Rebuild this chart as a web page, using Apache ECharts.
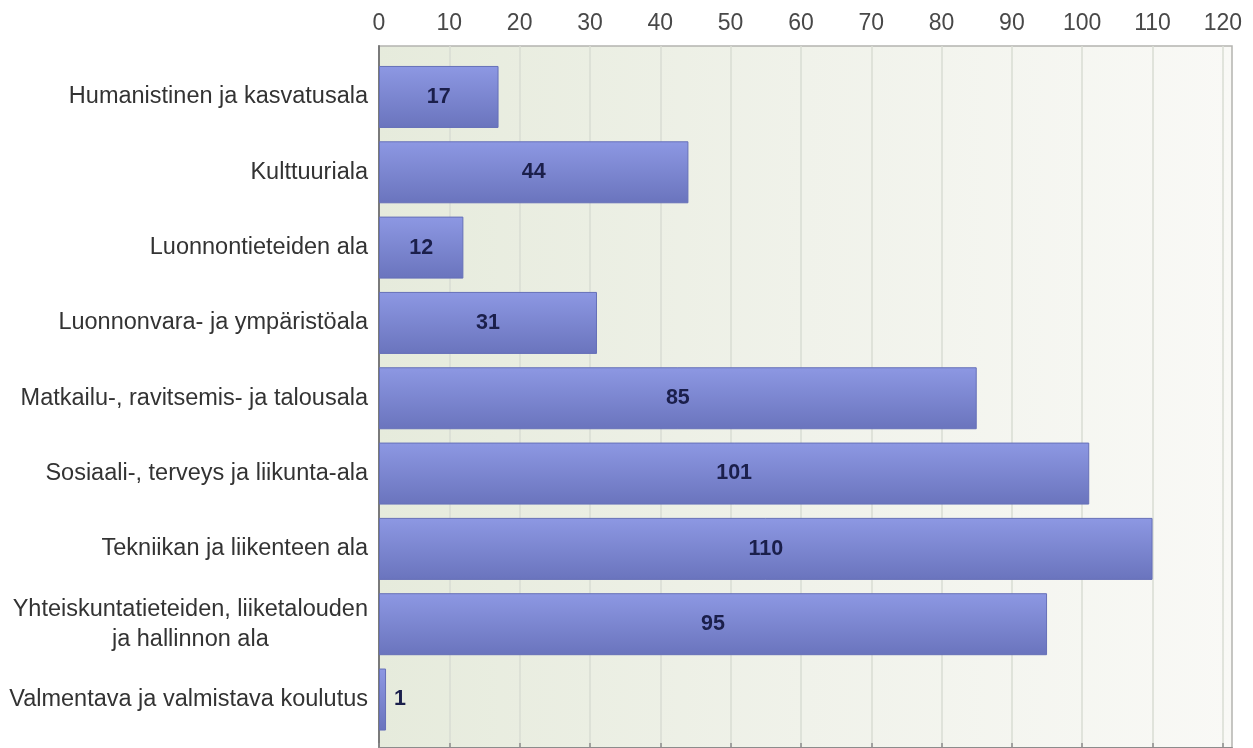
<!DOCTYPE html>
<html>
<head>
<meta charset="utf-8">
<script src="https://cdn.jsdelivr.net/npm/echarts@6/dist/echarts.min.js"></script>
<style>
html,body{margin:0;padding:0;background:#fff;}
#c{width:1253px;height:748px;}
</style>
</head>
<body>
<div id="c"></div>
<script>
var categories = [
  'Humanistinen ja kasvatusala',
  'Kulttuuriala',
  'Luonnontieteiden ala',
  'Luonnonvara- ja ympäristöala',
  'Matkailu-, ravitsemis- ja talousala',
  'Sosiaali-, terveys ja liikunta-ala',
  'Tekniikan ja liikenteen ala',
  'Yhteiskuntatieteiden, liiketalouden\nja hallinnon ala',
  'Valmentava ja valmistava koulutus'
];
var values = [17, 44, 12, 31, 85, 101, 110, 95, 1];
var xTicks = [0, 10, 20, 30, 40, 50, 60, 70, 80, 90, 100, 110, 120];
var xMax = 121.3;

var FONT = '"Liberation Sans", Arial, sans-serif';
var chart = echarts.init(document.getElementById('c'), null, {renderer: 'canvas'});

var barData = values.map(function (v) {
  if (v < 5) {
    return {value: v, label: {position: 'right', distance: 8}};
  }
  return v;
});

var option = {
  animation: false,
  backgroundColor: '#ffffff',
  grid: [
    {
      left: 379, right: 21, top: 46, bottom: -20,
      show: true,
      borderColor: '#b4b4b0', borderWidth: 1.5,
      backgroundColor: new echarts.graphic.LinearGradient(0, 0, 1, 0, [
        {offset: 0, color: '#e6ebdc'},
        {offset: 0.5, color: '#f0f2ea'},
        {offset: 1, color: '#f9f9f6'}
      ])
    },
    {left: 379, right: 21, top: 59.3, bottom: 10.8}
  ],
  xAxis: [
    {
      gridIndex: 0, type: 'value', position: 'top',
      min: 0, max: xMax, interval: 10,
      axisLine: {show: true, lineStyle: {color: '#8c8c8c', width: 2}},
      axisTick: {show: true, length: 5, customValues: xTicks, lineStyle: {color: '#8c8c8c', width: 1.5}},
      axisLabel: {customValues: xTicks, margin: 11, color: '#484848', fontSize: 23, fontFamily: FONT},
      splitLine: {show: true, lineStyle: {color: '#d9dcd3', width: 1.5}}
    },
    {
      gridIndex: 1, type: 'value', min: 0, max: xMax, show: false,
      axisLine: {show: false}, axisTick: {show: false},
      axisLabel: {show: false}, splitLine: {show: false}
    }
  ],
  yAxis: [
    {
      gridIndex: 0, type: 'value', min: 0, max: 1,
      axisLine: {show: true, lineStyle: {color: '#7a7a7a', width: 2}},
      axisTick: {show: false}, axisLabel: {show: false}, splitLine: {show: false}
    },
    {
      gridIndex: 1, type: 'category', inverse: true, data: categories,
      axisLine: {show: false}, axisTick: {show: false}, splitLine: {show: false},
      axisLabel: {
        margin: 11, align: 'right',
        color: '#333333', fontSize: 23.5, fontFamily: FONT,
        formatter: function (v) {
          return v.split('\n').map(function (l) { return '{c|' + l + '}'; }).join('\n');
        },
        rich: {
          c: {align: 'center', color: '#333333', fontSize: 23.5, fontFamily: FONT, lineHeight: 30}
        }
      }
    }
  ],
  series: [
    {
      type: 'bar', xAxisIndex: 1, yAxisIndex: 1,
      data: barData,
      barWidth: 62,
      itemStyle: {
        color: new echarts.graphic.LinearGradient(0, 0, 0, 1, [
          {offset: 0, color: '#8d98e3'},
          {offset: 1, color: '#6a74bd'}
        ]),
        borderColor: '#6670b8', borderWidth: 1
      },
      label: {
        show: true, position: 'inside',
        color: '#1b1f4b', fontWeight: 'bold', fontSize: 21.5, fontFamily: FONT
      }
    }
  ]
};
chart.setOption(option);
</script>
</body>
</html>
